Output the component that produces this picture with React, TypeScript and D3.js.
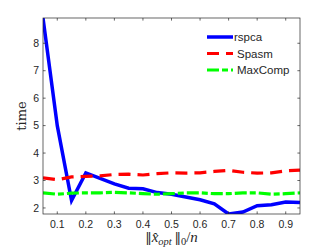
import React, { useEffect, useRef } from 'react';
import * as d3 from 'd3';

const xs = [0.05, 0.1, 0.15, 0.2, 0.25, 0.3, 0.35, 0.4, 0.45, 0.5, 0.55, 0.6, 0.65, 0.7, 0.75, 0.8, 0.85, 0.9, 0.95];
const rspca = [8.92, 5.0, 2.27, 3.28, 3.08, 2.88, 2.72, 2.7, 2.56, 2.5, 2.4, 2.3, 2.15, 1.78, 1.85, 2.08, 2.12, 2.22, 2.2];
const spasm = [3.1, 3.03, 3.13, 3.15, 3.17, 3.22, 3.23, 3.2, 3.25, 3.28, 3.27, 3.28, 3.33, 3.37, 3.3, 3.27, 3.28, 3.35, 3.38];
const maxcomp = [2.55, 2.5, 2.54, 2.55, 2.55, 2.57, 2.55, 2.52, 2.5, 2.52, 2.55, 2.55, 2.52, 2.52, 2.55, 2.55, 2.5, 2.52, 2.55];
const xTicks = [0.1, 0.2, 0.3, 0.4, 0.5, 0.6, 0.7, 0.8, 0.9];
const yTicks = [2, 3, 4, 5, 6, 7, 8];

const series = [
  { name: 'rspca', values: rspca, color: '#0000ff', dash: null, width: 3.5 },
  { name: 'Spasm', values: spasm, color: '#ff0000', dash: '12,7', width: 3.2 },
  { name: 'MaxComp', values: maxcomp, color: '#00ff00', dash: '12,3,6,3', width: 3.2 },
];

export default function App() {
  const svgRef = useRef<SVGSVGElement>(null);

  useEffect(() => {
    const width = 332;
    const height = 249;
    const left = 43, right = 300, top = 18, bottom = 214;
    const axisColor = '#262626';
    const tick = 2.6;

    const x = d3.scaleLinear().domain([0.05, 0.95]).range([left, right]);
    const y = d3.scaleLinear().domain([1.78, 8.92]).range([bottom, top]);

    const svg = d3.select(svgRef.current)
      .attr('width', width)
      .attr('height', height)
      .attr('viewBox', [0, 0, width, height])
      .style('display', 'block');
    svg.selectAll('*').remove();

    svg.append('rect').attr('width', width).attr('height', height).attr('fill', '#fff');

    svg.append('defs').append('clipPath').attr('id', 'plot-clip')
      .append('rect').attr('x', left).attr('y', top).attr('width', right - left).attr('height', bottom - top);

    const line = d3.line<number>().x((_, i) => x(xs[i])).y(d => y(d));

    svg.append('g')
      .attr('clip-path', 'url(#plot-clip)')
      .selectAll('path')
      .data(series)
      .join('path')
      .attr('d', d => line(d.values))
      .attr('fill', 'none')
      .attr('stroke', d => d.color)
      .attr('stroke-width', d => d.width)
      .attr('stroke-dasharray', d => d.dash)
      .attr('stroke-linejoin', 'miter');

    // box
    const g = svg.append('g').attr('stroke', axisColor).attr('stroke-width', 0.7).attr('fill', 'none');
    g.append('rect').attr('x', left).attr('y', top).attr('width', right - left).attr('height', bottom - top);
    xTicks.forEach(t => {
      g.append('line').attr('x1', x(t)).attr('x2', x(t)).attr('y1', bottom).attr('y2', bottom - tick);
      g.append('line').attr('x1', x(t)).attr('x2', x(t)).attr('y1', top).attr('y2', top + tick);
    });
    yTicks.forEach(t => {
      g.append('line').attr('x1', left).attr('x2', left + tick).attr('y1', y(t)).attr('y2', y(t));
      g.append('line').attr('x1', right).attr('x2', right - tick).attr('y1', y(t)).attr('y2', y(t));
    });

    const font = 'Liberation Sans, Arial, sans-serif';
    svg.append('g')
      .selectAll('text')
      .data(xTicks)
      .join('text')
      .attr('x', d => x(d))
      .attr('y', bottom + 14)
      .attr('text-anchor', 'middle')
      .attr('font-family', font)
      .attr('font-size', 10.5)
      .attr('fill', axisColor)
      .text(d => d3.format('.1f')(d));

    svg.append('g')
      .selectAll('text')
      .data(yTicks)
      .join('text')
      .attr('x', left - 4)
      .attr('y', d => y(d))
      .attr('dy', '0.35em')
      .attr('text-anchor', 'end')
      .attr('font-family', font)
      .attr('font-size', 10.5)
      .attr('fill', axisColor)
      .text(d => d);

    // axis labels
    svg.append('text')
      .attr('transform', `translate(26,${(top + bottom) / 2}) rotate(-90)`)
      .attr('text-anchor', 'middle')
      .attr('font-family', 'DejaVu Serif, Liberation Serif, serif')
      .attr('font-size', 13)
      .attr('fill', axisColor)
      .text('time');

    const xl = svg.append('text')
      .attr('x', (left + right) / 2)
      .attr('y', 242)
      .attr('text-anchor', 'middle')
      .attr('font-family', 'DejaVu Serif, serif')
      .attr('font-size', 13)
      .attr('fill', axisColor);
    xl.append('tspan').text('‖');
    xl.append('tspan').attr('font-style', 'italic').attr('font-family', 'Liberation Serif, serif').attr('font-size', 15).text('x̂');
    xl.append('tspan').attr('font-style', 'italic').attr('font-family', 'Liberation Serif, serif').attr('font-size', 10.5).attr('dy', 3).text('opt');
    xl.append('tspan').attr('dy', -3).text('\u2009‖');
    xl.append('tspan').attr('font-family', 'Liberation Serif, serif').attr('font-size', 10.5).attr('dy', 3).text('0');
    xl.append('tspan').attr('font-family', 'Liberation Serif, serif').attr('font-size', 15).attr('dy', -3).text('/');
    xl.append('tspan').attr('font-style', 'italic').attr('font-family', 'Liberation Serif, serif').attr('font-size', 15).text('n');

    // legend
    const leg = svg.append('g')
      .selectAll('g')
      .data(series)
      .join('g')
      .attr('transform', (_, i) => `translate(207,${37 + i * 16.5})`);
    leg.append('line')
      .attr('x1', 0).attr('x2', 26)
      .attr('stroke', d => d.color)
      .attr('stroke-width', d => d.width)
      .attr('stroke-dasharray', d => d.dash);
    leg.append('text')
      .attr('x', (_, i) => (i === 0 ? 27 : 30))
      .attr('dy', '0.35em')
      .attr('font-family', font)
      .attr('font-size', 11.5)
      .attr('fill', axisColor)
      .text(d => d.name);
  }, []);

  return <svg ref={svgRef} style={{ position: 'absolute', left: 0, top: 0 }}></svg>;
}
